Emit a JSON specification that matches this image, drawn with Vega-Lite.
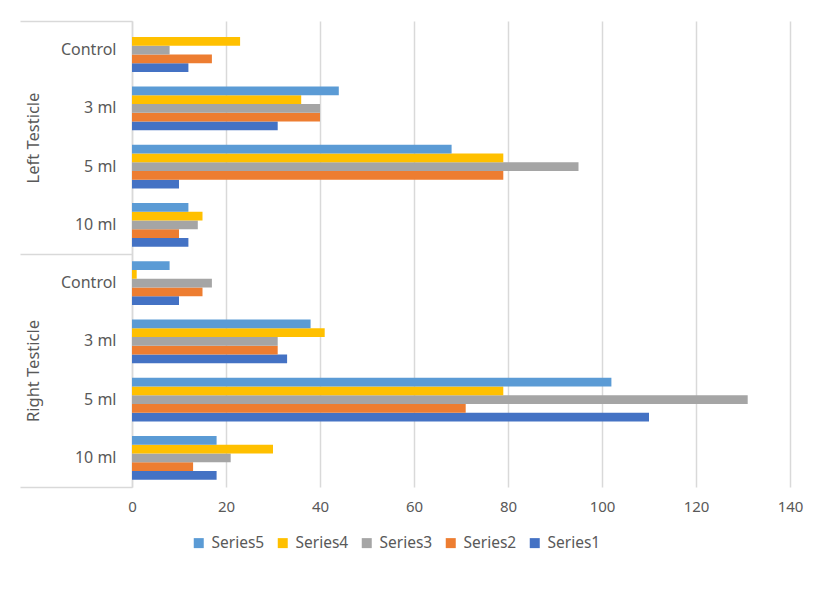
{
  "$schema": "https://vega.github.io/schema/vega-lite/v6.json",
  "width": 658,
  "height": 466,
  "padding": {"left": 19, "top": 20, "right": 14, "bottom": 10},
  "background": "white",
  "config": {
    "font": "Noto Sans",
    "view": {"stroke": null},
    "axis": {"labelColor": "#595959", "labelFont": "Noto Sans"},
    "legend": {"labelColor": "#595959", "labelFont": "Noto Sans"}
  },
  "data": {
    "values": [
      {"group": "Left Testicle", "cat": "Control", "key": "Left Testicle|Control", "series": "Series1", "value": 12},
      {"group": "Left Testicle", "cat": "Control", "key": "Left Testicle|Control", "series": "Series2", "value": 17},
      {"group": "Left Testicle", "cat": "Control", "key": "Left Testicle|Control", "series": "Series3", "value": 8},
      {"group": "Left Testicle", "cat": "Control", "key": "Left Testicle|Control", "series": "Series4", "value": 23},
      {"group": "Left Testicle", "cat": "Control", "key": "Left Testicle|Control", "series": "Series5", "value": 0},
      {"group": "Left Testicle", "cat": "3 ml", "key": "Left Testicle|3 ml", "series": "Series1", "value": 31},
      {"group": "Left Testicle", "cat": "3 ml", "key": "Left Testicle|3 ml", "series": "Series2", "value": 40},
      {"group": "Left Testicle", "cat": "3 ml", "key": "Left Testicle|3 ml", "series": "Series3", "value": 40},
      {"group": "Left Testicle", "cat": "3 ml", "key": "Left Testicle|3 ml", "series": "Series4", "value": 36},
      {"group": "Left Testicle", "cat": "3 ml", "key": "Left Testicle|3 ml", "series": "Series5", "value": 44},
      {"group": "Left Testicle", "cat": "5 ml", "key": "Left Testicle|5 ml", "series": "Series1", "value": 10},
      {"group": "Left Testicle", "cat": "5 ml", "key": "Left Testicle|5 ml", "series": "Series2", "value": 79},
      {"group": "Left Testicle", "cat": "5 ml", "key": "Left Testicle|5 ml", "series": "Series3", "value": 95},
      {"group": "Left Testicle", "cat": "5 ml", "key": "Left Testicle|5 ml", "series": "Series4", "value": 79},
      {"group": "Left Testicle", "cat": "5 ml", "key": "Left Testicle|5 ml", "series": "Series5", "value": 68},
      {"group": "Left Testicle", "cat": "10 ml", "key": "Left Testicle|10 ml", "series": "Series1", "value": 12},
      {"group": "Left Testicle", "cat": "10 ml", "key": "Left Testicle|10 ml", "series": "Series2", "value": 10},
      {"group": "Left Testicle", "cat": "10 ml", "key": "Left Testicle|10 ml", "series": "Series3", "value": 14},
      {"group": "Left Testicle", "cat": "10 ml", "key": "Left Testicle|10 ml", "series": "Series4", "value": 15},
      {"group": "Left Testicle", "cat": "10 ml", "key": "Left Testicle|10 ml", "series": "Series5", "value": 12},
      {"group": "Right Testicle", "cat": "Control", "key": "Right Testicle|Control", "series": "Series1", "value": 10},
      {"group": "Right Testicle", "cat": "Control", "key": "Right Testicle|Control", "series": "Series2", "value": 15},
      {"group": "Right Testicle", "cat": "Control", "key": "Right Testicle|Control", "series": "Series3", "value": 17},
      {"group": "Right Testicle", "cat": "Control", "key": "Right Testicle|Control", "series": "Series4", "value": 1},
      {"group": "Right Testicle", "cat": "Control", "key": "Right Testicle|Control", "series": "Series5", "value": 8},
      {"group": "Right Testicle", "cat": "3 ml", "key": "Right Testicle|3 ml", "series": "Series1", "value": 33},
      {"group": "Right Testicle", "cat": "3 ml", "key": "Right Testicle|3 ml", "series": "Series2", "value": 31},
      {"group": "Right Testicle", "cat": "3 ml", "key": "Right Testicle|3 ml", "series": "Series3", "value": 31},
      {"group": "Right Testicle", "cat": "3 ml", "key": "Right Testicle|3 ml", "series": "Series4", "value": 41},
      {"group": "Right Testicle", "cat": "3 ml", "key": "Right Testicle|3 ml", "series": "Series5", "value": 38},
      {"group": "Right Testicle", "cat": "5 ml", "key": "Right Testicle|5 ml", "series": "Series1", "value": 110},
      {"group": "Right Testicle", "cat": "5 ml", "key": "Right Testicle|5 ml", "series": "Series2", "value": 71},
      {"group": "Right Testicle", "cat": "5 ml", "key": "Right Testicle|5 ml", "series": "Series3", "value": 131},
      {"group": "Right Testicle", "cat": "5 ml", "key": "Right Testicle|5 ml", "series": "Series4", "value": 79},
      {"group": "Right Testicle", "cat": "5 ml", "key": "Right Testicle|5 ml", "series": "Series5", "value": 102},
      {"group": "Right Testicle", "cat": "10 ml", "key": "Right Testicle|10 ml", "series": "Series1", "value": 18},
      {"group": "Right Testicle", "cat": "10 ml", "key": "Right Testicle|10 ml", "series": "Series2", "value": 13},
      {"group": "Right Testicle", "cat": "10 ml", "key": "Right Testicle|10 ml", "series": "Series3", "value": 21},
      {"group": "Right Testicle", "cat": "10 ml", "key": "Right Testicle|10 ml", "series": "Series4", "value": 30},
      {"group": "Right Testicle", "cat": "10 ml", "key": "Right Testicle|10 ml", "series": "Series5", "value": 18}
    ]
  },
  "resolve": {"scale": {"y": "independent"}, "axis": {"y": "independent"}},
  "layer": [
    {
      "mark": {"type": "bar"},
      "encoding": {
        "x": {
          "field": "value",
          "type": "quantitative",
          "scale": {"domain": [0, 140], "nice": false},
          "axis": {
            "title": null,
            "values": [0, 20, 40, 60, 80, 100, 120, 140],
            "domain": false,
            "ticks": false,
            "grid": true,
            "gridColor": "#d9d9d9",
            "gridWidth": 1.5,
            "labelFontSize": 15,
            "labelPadding": 12,
            "labelFlush": false
          }
        },
        "y": {
          "field": "key",
          "type": "nominal",
          "scale": {
            "domain": ["Left Testicle|Control", "Left Testicle|3 ml", "Left Testicle|5 ml", "Left Testicle|10 ml", "Right Testicle|Control", "Right Testicle|3 ml", "Right Testicle|5 ml", "Right Testicle|10 ml"],
            "paddingInner": 0.25,
            "paddingOuter": 0.125
          },
          "axis": {
            "title": null,
            "labelExpr": "split(datum.label, '|')[1]",
            "ticks": false,
            "domainColor": "#d9d9d9",
            "domainWidth": 1.5,
            "labelFontSize": 16,
            "labelPadding": 16
          }
        },
        "yOffset": {
          "field": "series",
          "type": "nominal",
          "scale": {"domain": ["Series5", "Series4", "Series3", "Series2", "Series1"], "paddingInner": 0, "paddingOuter": 0}
        },
        "color": {
          "field": "series",
          "type": "nominal",
          "scale": {
            "domain": ["Series5", "Series4", "Series3", "Series2", "Series1"],
            "range": ["#5B9BD5", "#FFC000", "#A5A5A5", "#ED7D31", "#4472C4"]
          },
          "legend": {
            "title": null,
            "orient": "none",
            "direction": "horizontal",
            "legendX": 59,
            "legendY": 514,
            "symbolType": "square",
            "symbolSize": 100,
            "symbolStrokeWidth": 0,
            "labelFontSize": 15.5,
            "labelOffset": 5,
            "columnPadding": 10,
            "padding": 0
          }
        }
      }
    },
    {
      "mark": {"type": "point", "opacity": 0},
      "encoding": {
        "y": {
          "field": "group",
          "type": "nominal",
          "scale": {"domain": ["Left Testicle", "Right Testicle"], "paddingInner": 0, "paddingOuter": 0},
          "axis": {
            "title": null,
            "orient": "left",
            "tickBand": "extent",
            "tickSize": 112,
            "tickColor": "#d9d9d9",
            "tickWidth": 1.5,
            "domain": false,
            "labelAngle": 270,
            "labelAlign": "center",
            "labelBaseline": "bottom",
            "labelPadding": -21,
            "labelFontSize": 16.5
          }
        }
      }
    }
  ]
}
